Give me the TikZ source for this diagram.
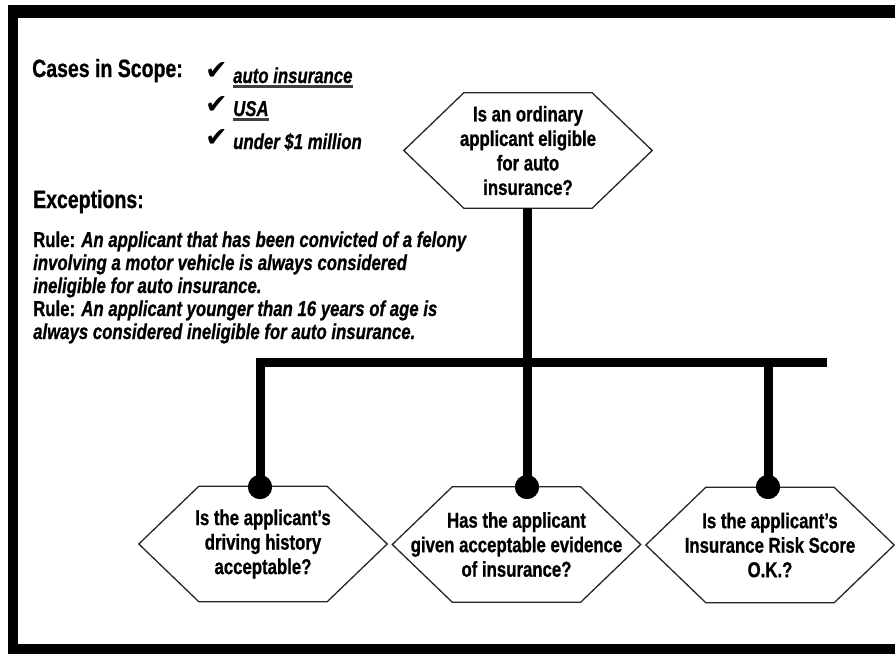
\documentclass[tikz,border=0pt]{standalone}
\usepackage{fontspec}
\setmainfont{Liberation Sans}[FakeStretch=0.78,FakeBold=0.8]
\newfontfamily\symfont{DejaVu Sans}
% outline of a six-sided decision box around a named node
\newcommand\hexoutline[1]{%
  \draw[hexline] (#1.west) -- ([xshift=60pt]#1.north west) -- ([xshift=-60pt]#1.north east)
    -- (#1.east) -- ([xshift=-60pt]#1.south east) -- ([xshift=60pt]#1.south west) -- cycle;}
\begin{document}
\begin{tikzpicture}[x=1pt,y=-1pt,
  hexnode/.style={minimum width=248pt,minimum height=115pt,inner sep=0pt,align=center,
    font=\fontsize{21.5}{24.5}\selectfont\bfseries},
  hexline/.style={draw=black!85,line width=1.3pt,line join=miter},
  trunk/.style={line width=9pt,black,line join=miter},
  head/.style={anchor=base west,inner sep=0pt,font=\fontsize{25}{28}\selectfont\bfseries},
  item/.style={anchor=base west,inner sep=0pt,font=\fontsize{21.5}{24}\selectfont\bfseries\itshape},
  ruleline/.style={anchor=base west,inner sep=0pt,font=\fontsize{21.5}{23}\selectfont\bfseries\itshape},
  tick/.style={anchor=base west,inner sep=0pt,font=\symfont\fontsize{27}{27}\selectfont},
  uline/.style={line width=2.2pt,black!75},
  dot/.style={circle,fill=black,minimum size=24pt,inner sep=0pt}
]
\useasboundingbox (0,0) rectangle (895,654);
\clip (0,0) rectangle (895,654);

% frame
\fill[black] (8,5) rectangle (895,18);
\fill[black] (8,5) rectangle (18,654);
\fill[black] (8,644) rectangle (895,654);

% scope and exceptions
\node[head] (cases) at (32,77) {Cases in Scope:};
\node[tick] (k1) at (205,79) {✔};
\node[tick] (k2) at (205,113) {✔};
\node[tick] (k3) at (205,146) {✔};
\node[item] (s1) at (233,83) {auto insurance};
\node[item] (s2) at (233,116) {USA};
\node[item] (s3) at (233,149) {under \$1 million};
\draw[uline] ([yshift=-3.5pt]s1.base west) -- ([yshift=-3.5pt]s1.base east);
\draw[uline] ([yshift=-3.5pt]s2.base west) -- ([yshift=-3.5pt]s2.base east);

\node[head] (exc) at (33,208) {Exceptions:};
\node[ruleline] (r1) at (33,247) {{\upshape Rule:} An applicant that has been convicted of a felony};
\node[ruleline] (r2) at (33,270) {involving a motor vehicle is always considered};
\node[ruleline] (r3) at (33,293) {ineligible for auto insurance.};
\node[ruleline] (r4) at (33,316) {{\upshape Rule:} An applicant younger than 16 years of age is};
\node[ruleline] (r5) at (33,339) {always considered ineligible for auto insurance.};

% decision boxes
\node[hexnode] (q0) at (528,150.5) {Is an ordinary\\applicant eligible\\for auto\\insurance?};
\node[hexnode] (q1) at (263,544) {Is the applicant’s\\driving history\\acceptable?};
\node[hexnode] (q2) at (516.5,544.5) {Has the applicant\\given acceptable evidence\\of insurance?};
\node[hexnode] (q3) at (770,545) {Is the applicant’s\\Insurance Risk Score\\O.K.?};
\hexoutline{q0}
\hexoutline{q1}
\hexoutline{q2}
\hexoutline{q3}

% junction dots
\node[dot] (d1) at (260,487) {};
\node[dot] (d2) at (527,487) {};
\node[dot] (d3) at (768,487) {};
\coordinate (busR) at (827,362);

% connectors
\draw[trunk] (d1.center) |- (busR);
\draw[trunk] (d2 |- q0.south) -- (d2.center);
\draw[trunk] (d3.center) -- (d3 |- busR);
\node[dot] at (d1) {};
\node[dot] at (d2) {};
\node[dot] at (d3) {};
\end{tikzpicture}
\end{document}
